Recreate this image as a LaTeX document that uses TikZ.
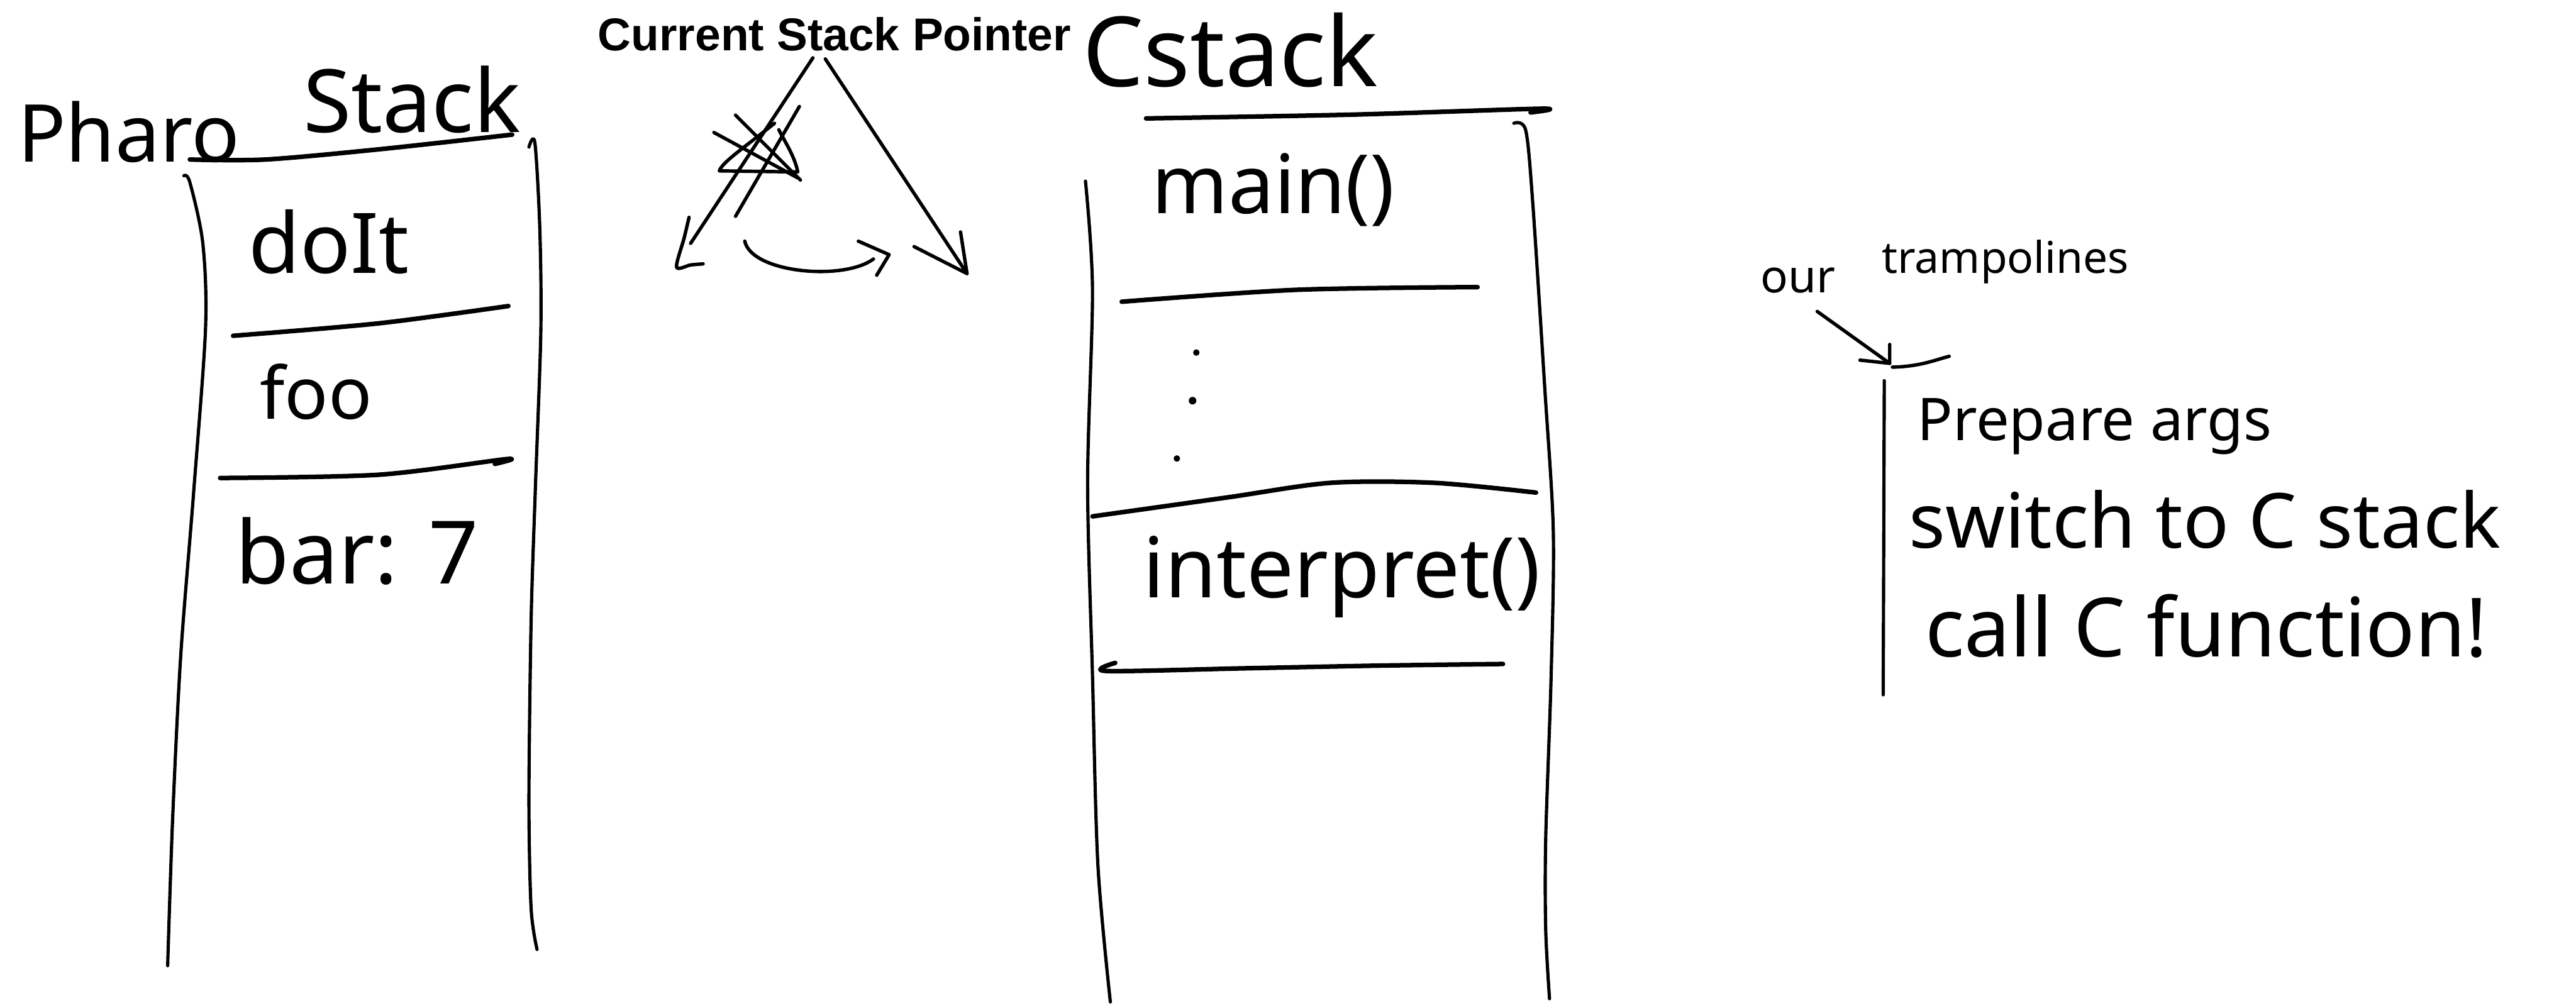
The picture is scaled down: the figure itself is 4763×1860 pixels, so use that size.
\documentclass[tikz,border=0pt]{standalone}
\usepackage{fontspec}
\setmainfont{Noto Sans}
\newfontfamily\cspfont{Liberation Sans}
\usetikzlibrary{arrows.meta}
\begin{document}
\begin{tikzpicture}[x=0.01cm,y=-0.01cm,line cap=round,line join=round,
  wall/.style={line width=1.7pt},
  divider/.style={line width=2.4pt},
  pen/.style={line width=1.8pt},
  hand/.style={inner sep=0pt,anchor=base west},
  fs/.style={font=\fontsize{#1}{#1}\selectfont}]
\useasboundingbox (0,0) rectangle (4763,1860);

% ---------- Pharo stack ----------
\node[hand,fs=42] (pharoword) at (32,300) {Pharo};
\node[hand,fs=46] (stackword) at (560,245) {Stack};
\draw[divider] plot[smooth] coordinates {(351,295) (491,295) (702,276) (947,249)};
\draw[wall] plot[smooth] coordinates {(340,325) (351,337) (375,450) (380,608) (358,911) (334,1215) (319,1519) (310,1786)};
\draw[wall] plot[smooth] coordinates {(978,272) (989,264) (998,420) (1000,612) (990,900) (982,1148) (978,1480) (982,1680) (993,1756)};
\draw[divider] plot[smooth] coordinates {(431,621) (700,598) (940,566)};
\draw[divider] plot[smooth] coordinates {(407,884) (700,878) (937,849) (915,858)};
\node[hand,fs=44] (doit) at (459,505) {doIt};
\node[hand,fs=38] (foo) at (480,775) {foo};
\node[hand,fs=46] (bar) at (435,1080) {bar: 7};

% ---------- Current stack pointer ----------
\node[hand,fs=24.2] (csp) at (1105,94) {\cspfont\bfseries Current Stack Pointer};
\coordinate (cspL) at (1503,107);
\coordinate (cspR) at (1526,109);
\coordinate (pL) at (1277,450);
\coordinate (pR) at (1788,506);
\coordinate (cA) at (1377,446);
\coordinate (cB) at (1615,479);
% arrow towards the Pharo stack
\draw[pen] (cspL) -- (pL);
\draw[pen] plot[smooth] coordinates {(1274,402) (1265,440) (1251,494) (1277,490) (1300,488)};
% crossed-out stroke
\draw[pen] (1478,197) -- (1360,400);
\draw[pen] (1360,213) -- (1480,333);
\draw[pen] (1320,245) -- (1475,329);
\draw[pen] (1432,228) .. controls (1380,270) and (1335,300) .. (1330,316) -- (1475,318) .. controls (1470,290) and (1450,260) .. (1440,240);
% arrow towards the C stack
\draw[pen] (cspR) -- (pR);
\draw[pen] (1690,456) -- (pR) -- (1776,429);
% switch arrow
\draw[pen] (cA) .. controls (1390,505) and (1560,520) .. (cB);
\draw[pen] (1587,446) -- (1644,471) -- (1621,509);

% ---------- C stack ----------
\node[hand,fs=51] (cstack) at (2001,160) {Cstack};
\draw[divider] plot[smooth] coordinates {(2119,219) (2500,212) (2850,201) (2830,208)};
\draw[wall] plot[smooth] coordinates {(2007,335) (2020,536) (2011,893) (2020,1250) (2030,1600) (2053,1853)};
\draw[wall] plot[smooth] coordinates {(2799,228) (2821,241) (2834,375) (2856,714) (2872,982) (2868,1250) (2858,1550) (2858,1720) (2865,1847)};
\draw[divider] plot[smooth] coordinates {(2074,558) (2397,536) (2732,531)};
\draw[divider] plot[smooth] coordinates {(2020,955) (2269,920) (2460,893) (2652,893) (2840,911)};
\draw[divider] plot[smooth] coordinates {(2062,1226) (2046,1241) (2300,1236) (2550,1231) (2779,1228)};
\node[hand,fs=43] (main) at (2129,395) {main()};
\fill (2212,652) circle (6);
\fill (2205,741) circle (7);
\fill (2176,848) circle (6);
\node[hand,fs=44] (interp) at (2113,1105) {interpret()};

% ---------- trampolines ----------
\node[hand,fs=24] (ourword) at (3255,541) {our};
\node[hand,fs=23] (trampword) at (3479,505) {trampolines};
\coordinate (tA) at (3360,576);
\coordinate (tB) at (3494,672);
\draw[pen] (tA) -- (tB);
\draw[pen] (3439,666) -- (tB) -- (3494,637);
\draw[pen] (3499,679) .. controls (3550,678) and (3580,665) .. (3604,659);
\draw[wall] (3484,704) -- (3482,1285);
\node[hand,fs=31] (prep) at (3544,815) {Prepare args};
\node[hand,fs=40] (switch) at (3529,1013) {switch to C stack};
\node[hand,fs=43] (callc) at (3559,1215) {call C function!};
\end{tikzpicture}
\end{document}
